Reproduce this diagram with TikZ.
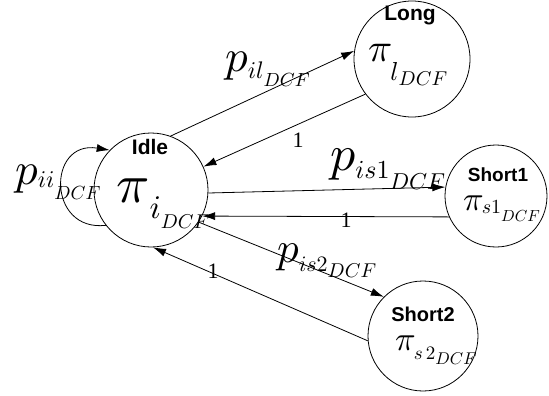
\documentclass[tikz,border=0pt]{standalone}
\usepackage{fontspec}
\setsansfont{Liberation Sans}
\setmainfont{Liberation Serif}
\usetikzlibrary{arrows.meta}
% #1 base, #2 sub, #3 subsub, #4-#6 scales, #7 drop of sub, #8 drop of subsub, #9 kern before sub
\newcommand\mlab[9]{\scalebox{#4}{$#1$}\kern#9\raisebox{-#7}{\scalebox{#5}{$#2$}\raisebox{-#8}{\scalebox{#6}{$#3$}}}}
\tikzset{
  state/.style={circle, draw, line width=0.8pt, inner sep=0pt},
  statename/.style={font=\sffamily\bfseries\fontsize{21}{21}\selectfont, inner sep=0pt},
  smallname/.style={font=\sffamily\bfseries\fontsize{19}{19}\selectfont, inner sep=0pt},
  edge/.style={line width=0.8pt, -{Latex[length=13pt,width=8pt]}},
  mathlab/.style={inner sep=0pt, anchor=base west},
  onelabel/.style={inner sep=0pt, font=\fontsize{22}{22}\selectfont}
}
\begin{document}
\begin{tikzpicture}[x=1pt,y=-1pt]
\useasboundingbox (0,0) rectangle (549,396);
% states
\node[state, minimum size=114pt] (idle) at (151,190) {};
\node[state, minimum size=116pt] (long) at (412,59) {};
\node[state, minimum size=102pt] (s1) at (496,196) {};
\node[state, minimum size=110pt] (s2) at (423,336) {};
% texts inside
\node[statename] (tidle) at (150,147) {Idle};
\node[mathlab] (pidle) at (116,202) {\mlab{\pi}{i}{DCF}{5.5}{3.3}{2.0}{16pt}{10pt}{0pt}};
\node[statename] (tlong) at (410,16) {Long};
\node[mathlab] (plong) at (368,62) {\mlab{\pi}{l}{DCF}{4}{2.6}{2.0}{19pt}{5pt}{-2pt}};
\node[smallname] (ts1) at (498,175) {Short1};
\node[mathlab] (ps1) at (463,210) {\mlab{\pi}{s1}{DCF}{3.4}{2.0}{1.6}{3pt}{8pt}{-2pt}};
\node[smallname, font=\sffamily\bfseries\fontsize{20}{20}\selectfont] (ts2) at (423,314) {Short2};
\node[mathlab] (ps2) at (395,350) {\mlab{\pi}{s\,2}{DCF}{3.4}{1.9}{1.7}{9pt}{5pt}{-2pt}};
% edges
\draw[edge] (idle.70) -- (long.172);
\draw[edge] (long.217) -- (idle.24);
\draw[edge] (idle.-3) -- (s1.170);
\draw[edge] (s1.204) -- (idle.-27);
\draw[edge] (idle.-34) -- (s2.135);
\draw[edge] (s2.185) -- (idle.-88);
\draw[edge] (idle.218) .. controls (47,232) and (47,140) .. (idle.136);
% labels
\node[mathlab] (lil) at (225,72) {\mlab{p}{il}{DCF}{4.5}{2.4}{1.9}{6pt}{9pt}{0pt}};
\node[onelabel] (l1a) at (298,140) {1};
\node[mathlab] (lis1) at (330,170) {\mlab{p}{is1}{DCF}{5}{2.6}{2.3}{9pt}{10pt}{0pt}};
\node[onelabel] (l1b) at (346,220) {1};
\node[mathlab] (lis2) at (277,262) {\mlab{p}{is2}{DCF}{4.3}{2.2}{2.0}{9pt}{6pt}{0pt}};
\node[onelabel] (l1c) at (213,271) {1};
\node[mathlab] (lii) at (15,184) {\mlab{p}{ii}{DCF}{4.5}{2.4}{1.9}{3pt}{12pt}{0pt}};
\end{tikzpicture}
\end{document}
